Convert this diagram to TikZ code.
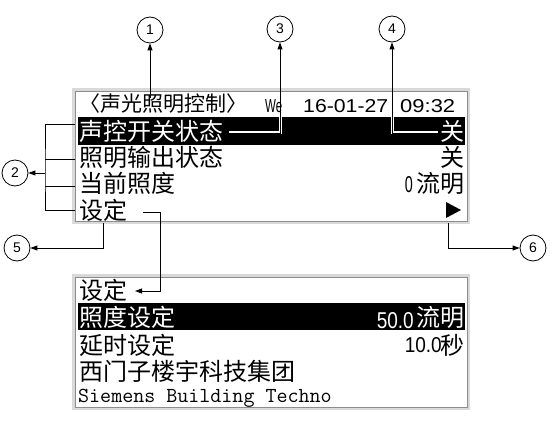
\documentclass[tikz,border=0pt]{standalone}
\usepackage{fontspec}
\setmainfont{Liberation Sans}
\newfontfamily\cjk{Noto Sans CJK SC}
\usetikzlibrary{arrows.meta}
\newcommand{\dg}[3]{\resizebox{#1}{#2}{#3}}
\begin{document}
\begin{tikzpicture}[x=1pt,y=-1pt,
  cn/.style={font=\cjk\fontsize{24}{24}\selectfont, inner sep=0pt},
  tt/.style={font=\cjk\fontsize{21}{21}\selectfont, inner sep=0pt},
  dgt/.style={inner sep=0pt},
  num/.style={circle, draw, line width=0.8pt, minimum size=26pt, inner sep=0pt, font=\fontsize{14}{14}\selectfont},
  conn/.style={line width=0.9pt, -{Triangle[length=7pt,width=5pt]}},
  wire/.style={line width=0.9pt},
  casing/.style={white, line width=3pt},
  frameout/.style={fill=black!15},
  framein/.style={fill=white, draw=black!45, line width=0.8pt},
  bar/.style={fill=black}]
\useasboundingbox (0,0) rectangle (555,428);

% panels
\fill[frameout] (72,88) rectangle (470,224);
\filldraw[framein] (75,91) rectangle (467,221);
\fill[bar] (78,117) rectangle (465,145);
\fill[frameout] (72,274) rectangle (470,410);
\filldraw[framein] (75,277) rectangle (467,407);
\fill[bar] (78,303) rectangle (465,330);

% circles
\node[num] (c1) at (150,30) {1};
\node[num] (c2) at (15,173) {2};
\node[num] (c3) at (280,29) {3};
\node[num] (c4) at (392,29) {4};
\node[num] (c5) at (17,248) {5};
\node[num] (c6) at (533,248) {6};

% panel 1 text
\node[tt, anchor=base west] (title) at (79,112) {〈声光照明控制〉};
\node[dgt, anchor=base west] (we) at (265,113) {\dg{17pt}{13pt}{We}};
\node[dgt, anchor=base west] (date) at (303,113) {\dg{85pt}{13pt}{16-01-27}};
\node[dgt, anchor=base west] (time) at (400,113) {\dg{55pt}{13pt}{09:32}};
\node[cn, white, anchor=base west] (r1) at (79,140) {声控开关状态};
\node[cn, anchor=base west] (r2) at (79,167) {照明输出状态};
\node[cn, anchor=base west] (r3) at (79,193) {当前照度};
\node[cn, anchor=base west] (r4) at (79,219) {设定};
\node[cn, white, anchor=base east] (v1) at (465,140) {关};
\node[cn, anchor=base east] (v2) at (465,167) {关};
\node[cn, anchor=base east] (v3u) at (465,193) {流明};
\node[dgt, anchor=base east] (v3n) at (413,193) {\dg{8pt}{16pt}{0}};
\fill (446,202) -- (461,210) -- (446,218) -- cycle;

% panel 2 text
\node[cn, anchor=base west] (s0) at (79,299) {设定};
\node[cn, white, anchor=base west] (s1) at (79,326) {照度设定};
\node[cn, anchor=base west] (s2) at (79,354) {延时设定};
\node[cn, anchor=base west] (s3) at (79,380) {西门子楼宇科技集团};
\node[dgt, anchor=base west, font=\ttfamily\fontsize{21.4}{21.4}\selectfont] (s4) at (78,402) {Siemens Building Techno};
\node[dgt, white, anchor=base east] (w1n) at (414,328) {\dg{37pt}{16pt}{50.0}};
\node[cn, white, anchor=base east] (w1u) at (465,326) {流明};
\node[dgt, anchor=base east] (w2n) at (442,352) {\dg{37pt}{15pt}{10.0}};
\node[cn, anchor=base east] (w2u) at (465,354) {秒};

% connectors
\coordinate (p1) at (150,98);
\draw[conn] (p1) -- (c1);

\coordinate (p3) at (229,133);
\draw[casing] (p3) -- (p3 -| c3) -- ++(0,-16);
\draw[conn] (p3) -| (c3);

\coordinate (p4) at (438,133);
\draw[casing] (p4) -- (p4 -| c4) -- ++(0,-16);
\draw[conn] (p4) -| (c4);

\coordinate (b1) at (75,124);
\coordinate (b2) at (75,159);
\coordinate (b3) at (75,186);
\coordinate (b4) at (75,210);
\coordinate (j) at (45,173);
\draw[wire] (b1) -| (j) |- (b4);
\draw[wire] (b2) -- (b2 -| j);
\draw[wire] (b3) -- (b3 -| j);
\draw[conn] (j) -- (c2);

\coordinate (p5) at (103,223);
\draw[conn] (p5) |- (c5);

\coordinate (q1) at (143,212);
\coordinate (q2) at (135,291);
\draw[conn] (q1) -- ++(17,0) |- (q2);

\coordinate (p6) at (448,223);
\draw[conn] (p6) |- (c6);
\end{tikzpicture}
\end{document}
